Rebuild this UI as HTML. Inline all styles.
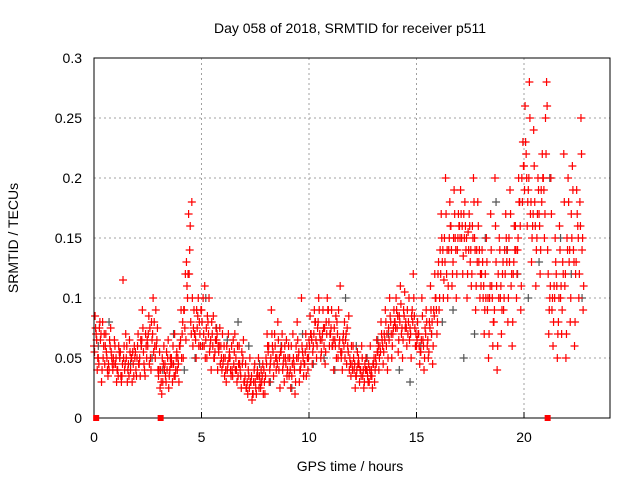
<!DOCTYPE html>
<html><head><meta charset="utf-8"><style>
body{margin:0;background:#fff;}
svg{display:block;font-family:"Liberation Sans",sans-serif;}
</style></head><body>
<svg id="chart" width="640" height="480">
<text x="350" y="33" font-size="14" text-anchor="middle">Day 058 of 2018, SRMTID for receiver p511</text>
<text x="350" y="471" font-size="14" text-anchor="middle">GPS time / hours</text>
<text transform="translate(18,238) rotate(-90)" font-size="14" text-anchor="middle">SRMTID / TECUs</text>
<g id="grid"></g><g id="pts"></g><g id="axes"></g>
</svg>
<script>
const xTicks=[0,5,10,15,20];
const yTicks=[0,0.05,0.1,0.15,0.2,0.25,0.3];
const yTickLabels=["0","0.05","0.1","0.15","0.2","0.25","0.3"];
const seriesA=[.06,.07,.05,.065,.08,.045,.05,.04,.055,.05,
.045,.04,.05,.035,.06,.05,.045,.04,.055,.05,
.05,.045,.06,.055,.07,.06,.075,.065,.08,.06,
.035,.04,.03,.045,.04,.035,.05,.045,.04,.05,
.06,.07,.09,.13,.17,.08,.06,.07,.075,.08,
.09,.07,.065,.08,.06,.07,.05,.065,.055,.06,
.045,.05,.04,.055,.06,.045,.05,.035,.04,.045,
.03,.025,.035,.03,.02,.03,.04,.035,.03,.04,
.05,.055,.045,.06,.07,.05,.04,.055,.045,.05,
.04,.05,.035,.045,.06,.05,.04,.055,.045,.06,
.065,.07,.06,.08,.075,.07,.065,.06,.08,.09,
.07,.06,.065,.08,.06,.05,.07,.065,.06,.05,
.045,.04,.035,.05,.04,.035,.045,.04,.03,.04,
.045,.05,.055,.06,.065,.07,.06,.075,.08,.07,
.08,.075,.085,.07,.09,.08,.07,.075,.09,.085,
.06,.07,.055,.065,.075,.06,.08,.07,.09,.1,
.12,.14,.13,.15,.12,.14,.16,.13,.15,.14,
.16,.15,.17,.14,.155,.13,.16,.15,.14,.13,
.11,.1,.12,.09,.1,.11,.08,.13,.12,.1,
.12,.14,.13,.15,.11,.12,.16,.14,.18,.2,
.21,.22,.19,.17,.16,.18,.15,.17,.19,.2,
.25,.14,.1,.09,.11,.12,.08,.1,.13,.11,
.15,.13,.17,.14,.12,.16,.18,.14];
const seriesB=[.085,.04,.075,.03,.06,.07,.035,.06,.045,.065,
.03,.06,.035,.115,.045,.03,.065,.05,.035,.04,
.07,.035,.09,.04,.05,.085,.04,.1,.05,.075,
.055,.02,.06,.03,.065,.05,.03,.07,.055,.03,
.09,.05,.12,.1,.14,.18,.09,.05,.1,.06,
.06,.11,.05,.1,.04,.085,.065,.04,.075,.04,
.06,.03,.07,.04,.035,.07,.03,.06,.025,.065,
.045,.02,.05,.015,.04,.02,.05,.025,.045,.02,
.07,.03,.09,.035,.05,.08,.025,.07,.03,.065,
.06,.025,.07,.02,.08,.03,.1,.035,.07,.04,
.085,.045,.09,.05,.1,.05,.09,.045,.1,.06,
.09,.04,.085,.05,.11,.04,.08,.045,.085,.035,
.06,.025,.055,.03,.06,.025,.05,.03,.06,.025,
.03,.065,.04,.08,.045,.09,.04,.1,.05,.09,
.1,.055,.11,.05,.105,.06,.1,.05,.12,.06,
.08,.045,.1,.04,.09,.05,.11,.045,.12,.07,
.09,.17,.1,.2,.1,.18,.11,.19,.1,.17,
.19,.12,.18,.1,.17,.11,.2,.09,.18,.1,
.14,.07,.15,.05,.17,.06,.2,.04,.15,.07,
.09,.17,.08,.19,.06,.16,.1,.2,.09,.23,
.26,.16,.28,.13,.24,.11,.2,.12,.22,.15,
.28,.07,.2,.06,.15,.05,.16,.07,.22,.05,
.2,.08,.21,.06,.19,.1,.25,.09];
const seriesC=[.055,.065,.045,.07,.05,.06,.04,.065,.05,.045,
.05,.035,.055,.045,.04,.06,.035,.05,.045,.055,
.06,.05,.065,.045,.06,.07,.05,.07,.06,.065,
.04,.03,.045,.035,.05,.04,.045,.035,.05,.045,
.065,.08,.075,.11,.12,.07,.075,.065,.085,.07,
.08,.06,.075,.07,.065,.06,.055,.07,.06,.05,
.05,.04,.045,.05,.04,.055,.04,.045,.035,.05,
.035,.03,.025,.035,.03,.025,.035,.03,.035,.03,
.045,.06,.05,.055,.06,.045,.05,.06,.05,.045,
.05,.04,.045,.04,.05,.055,.045,.05,.055,.05,
.06,.065,.07,.065,.08,.065,.07,.075,.07,.08,
.075,.065,.06,.07,.065,.055,.06,.07,.055,.045,
.04,.045,.04,.045,.035,.04,.04,.035,.04,.035,
.05,.045,.06,.055,.06,.065,.07,.065,.07,.075,
.075,.085,.08,.075,.085,.075,.08,.07,.08,.075,
.065,.06,.065,.06,.07,.065,.075,.08,.085,.09,
.13,.12,.14,.13,.14,.15,.14,.15,.14,.15,
.15,.16,.15,.15,.14,.14,.15,.14,.13,.14,
.12,.11,.1,.1,.11,.1,.09,.11,.1,.11,
.13,.12,.14,.13,.12,.13,.14,.15,.16,.18,
.19,.2,.2,.18,.17,.16,.17,.16,.18,.19,
.22,.12,.11,.1,.1,.11,.1,.11,.12,.12,
.14,.14,.15,.13,.13,.15,.16,.15];
const seriesD=[.075,.05,.08,.04,.07,.055,.045,.075,.04,.06,
.04,.055,.03,.05,.07,.04,.055,.03,.06,.035,
.045,.065,.075,.035,.065,.045,.08,.055,.09,.04,
.025,.05,.04,.055,.025,.045,.06,.035,.04,.06,
.05,.09,.065,.12,.16,.1,.07,.09,.06,.09,
.1,.05,.085,.055,.08,.05,.075,.06,.045,.07,
.035,.06,.05,.035,.065,.04,.06,.045,.055,.03,
.025,.04,.03,.02,.045,.035,.025,.04,.02,.035,
.06,.04,.07,.045,.04,.065,.055,.04,.06,.035,
.035,.06,.05,.03,.065,.04,.06,.045,.035,.05,
.07,.055,.08,.06,.09,.055,.075,.055,.09,.07,
.06,.075,.05,.09,.055,.065,.05,.075,.04,.06,
.05,.035,.045,.04,.05,.03,.04,.045,.035,.045,
.04,.055,.05,.07,.055,.08,.05,.085,.06,.08,
.09,.065,.095,.065,.075,.09,.065,.085,.1,.07,
.07,.055,.085,.05,.08,.055,.09,.06,.1,.08,
.1,.15,.115,.17,.11,.16,.12,.17,.12,.16,
.17,.135,.16,.12,.16,.12,.18,.11,.16,.12,
.13,.09,.13,.07,.14,.08,.16,.06,.14,.09,
.1,.15,.1,.17,.08,.14,.12,.18,.11,.21,
.23,.18,.25,.15,.21,.14,.19,.14,.2,.17,
.26,.09,.17,.08,.13,.07,.14,.09,.18,.07,
.18,.1,.19,.08,.17,.12,.22,.11];
const seriesGray=[.06,.08,.05,.045,.06,.05,.04,.07,.04,.05,.1,.075,.065,.08,.06,.045,.03,.06,.025,.07,.045,.05,.04,.1,.06,.05,.065,.07,.04,.03,.06,.07,.08,.09,.05,.07,.15,.18,.14,.12,.1,.13,.2,.15,.12,.1];
const gapHours=[0.1,3.1,21.1];
const X0=94,X1=610,Y0=418,Y1=58,XMAX=24,YMAX=0.3;
const sx=h=>X0+(X1-X0)*h/XMAX, sy=v=>Y0-(Y0-Y1)*v/YMAX;
const NS="http://www.w3.org/2000/svg";
function mk(tag,attrs,parent){const e=document.createElementNS(NS,tag);for(const k in attrs)e.setAttribute(k,attrs[k]);parent.appendChild(e);return e;}
const grid=document.getElementById('grid'),pts=document.getElementById('pts'),axes=document.getElementById('axes');
xTicks.forEach(t=>{const x=sx(t);
 if(t>0){const g=mk('line',{x1:x,x2:x,y1:Y1,y2:Y0,stroke:'#a0a0a0','stroke-dasharray':'2,3'},grid);
 
 }
 const tl=mk('line',{x1:x,x2:x,y1:Y0,y2:Y0-6,stroke:'#000'},axes);
 
 
 const tx=mk('text',{x:x,y:Y0+24,'font-size':14,'text-anchor':'middle'},axes);tx.textContent=t;
 
 
});
yTicks.forEach((t,i)=>{const y=sy(t);
 if(t>0&&t<YMAX){const g=mk('line',{x1:X0,x2:X1,y1:y,y2:y,stroke:'#a0a0a0','stroke-dasharray':'2,3'},grid);
 
 }
 const tx=mk('text',{x:X0-12,y:y+5,'font-size':14,'text-anchor':'end'},axes);tx.textContent=yTickLabels[i];
 
 
});
function plus(h,v,color,name){const x=sx(h),y=sy(v);
 const p=mk('path',{d:`M${x-4},${y}H${x+4}M${x},${y-4}V${y+4}`,stroke:color,'stroke-width':1.2,fill:'none'},pts);
 
 }
seriesGray.forEach((v,i)=>plus(i*0.5+0.2,v,'#555','gray-point'));
seriesA.forEach((v,i)=>plus(i*0.1,v,'#ff0000','red-point'));
seriesB.forEach((v,i)=>plus(i*0.1+0.05,v,'#ff0000','red-point'));
seriesC.forEach((v,i)=>plus(i*0.1+0.025,v,'#ff0000','red-point'));
seriesD.forEach((v,i)=>plus(i*0.1+0.075,v,'#ff0000','red-point'));
const fr=mk('rect',{x:X0,y:Y1,width:X1-X0,height:Y0-Y1,fill:'none',stroke:'#000'},axes);


gapHours.forEach(h=>{const r=mk('rect',{x:sx(h)-3,y:Y0-3,width:6,height:6,fill:'#ff0000'},axes);
 
 });
</script>
</body></html>
